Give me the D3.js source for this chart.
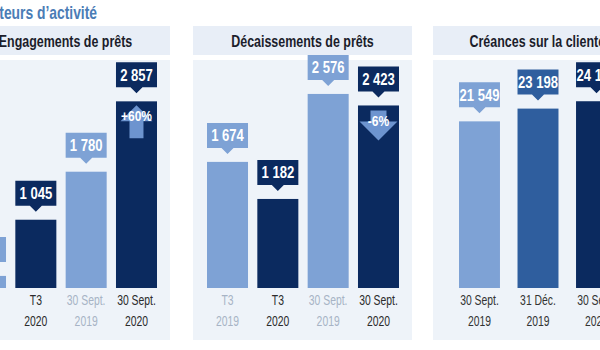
<!DOCTYPE html>
<html>
<head>
<meta charset="utf-8">
<script src="https://cdn.jsdelivr.net/npm/d3@7"></script>
<style>
  body { margin: 0; background: #fff; }
  svg { display: block; font-family: "Liberation Sans", Arial, sans-serif; }
</style>
</head>
<body>
<svg width="600" height="350"></svg>
<script>
// chart data
const title = "Indicateurs d’activité";
const panelTitles = ["Engagements de prêts", "Décaissements de prêts", "Créances sur la clientèle"];

const periodCats = [["T3", "2019"], ["T3", "2020"], ["30 Sept.", "2019"], ["30 Sept.", "2020"]];
const engagementValues = [185, 1045, 1780, 2857];
const engagementLabels = ["185", "1 045", "1 780", "2 857"];
const disbursementValues = [1674, 1182, 2576, 2423];
const disbursementLabels = ["1 674", "1 182", "2 576", "2 423"];

const loanCats = [["30 Sept.", "2019"], ["31 Déc.", "2019"], ["30 Sept.", "2020"]];
const loanValues = [21549, 23198, 24150];
const loanLabels = ["21 549", "23 198", "24 150"];

const changes = [
  { panel: 0, bar: 3, text: "+60%", dir: "up" },
  { panel: 1, bar: 3, text: "-6%", dir: "down" }
];

// colours
const navy = "#0b2a5f", light = "#7ea2d5", mid = "#2f5e9e", arrowBlue = "#6d94cf";
const grey2019 = "#a7b3c5", dark = "#2b2b2b";

const svg = d3.select("svg");

// the slide font is a condensed one, so squeeze the text horizontally
function condensed(parent, x, y, sx) {
  return parent.append("text")
    .attr("transform", `translate(${x},${y}) scale(${sx},1)`);
}

condensed(svg, 97, 19, 0.77)
  .attr("text-anchor", "end")
  .attr("font-size", 18).attr("font-weight", "bold")
  .attr("fill", "#4b7db6")
  .text(title);

const panels = [
  { x0: -49, titleDx: 5, cats: periodCats, values: engagementValues, labels: engagementLabels,
    max: 3000, top: 92, range: [14, 206], pad: 0.185,
    colors: [light, navy, light, navy], catColors: [grey2019, dark, grey2019, dark] },
  { x0: 193, titleDx: 0, cats: periodCats, values: disbursementValues, labels: disbursementLabels,
    max: 3000, top: 62, range: [14, 206], pad: 0.185,
    colors: [light, navy, light, navy], catColors: [grey2019, dark, grey2019, dark] },
  { x0: 433, titleDx: 0, cats: loanCats, values: loanValues, labels: loanLabels,
    max: 30000, top: 56, range: [26, 184], pad: 0.3,
    colors: [light, mid, navy], catColors: ["#333", "#333", "#333"] }
];

const panelW = 219, base = 288;

panels.forEach((p, pi) => {
  const g = svg.append("g").attr("transform", `translate(${p.x0},0)`);

  // header band + body
  g.append("rect").attr("x", 0).attr("y", 26).attr("width", panelW).attr("height", 29).attr("fill", "#e8eef7");
  g.append("rect").attr("x", 0).attr("y", 60).attr("width", panelW).attr("height", 280).attr("fill", "#eef3f9");
  condensed(g, panelW / 2 + p.titleDx, 47, 0.755)
    .attr("text-anchor", "middle")
    .attr("font-size", 16.5).attr("font-weight", "bold")
    .attr("fill", "#1b1d2b")
    .text(panelTitles[pi]);

  const x = d3.scaleBand().domain(d3.range(p.values.length)).range(p.range).paddingInner(p.pad);
  const y = d3.scaleLinear().domain([0, p.max]).range([base, p.top]);
  const bw = x.bandwidth();

  const bars = g.selectAll("g.bar").data(p.values).enter().append("g").attr("class", "bar");

  bars.append("rect")
    .attr("x", (d, i) => x(i)).attr("y", d => y(d))
    .attr("width", bw).attr("height", d => base - y(d))
    .attr("fill", (d, i) => p.colors[i]);

  // value callouts
  bars.append("path")
    .attr("d", (d, i) => {
      const l = x(i), r = l + bw, c = l + bw / 2, b = y(d) - 14, t = b - 25;
      return `M${l},${t}H${r}V${b}H${c + 6}L${c},${b + 6}L${c - 6},${b}H${l}Z`;
    })
    .attr("fill", (d, i) => p.colors[i]);

  bars.each(function (d, i) {
    const bar = d3.select(this);
    const cx = x(i) + bw / 2;
    condensed(bar, cx, y(d) - 20.5, 0.77)
      .attr("text-anchor", "middle")
      .attr("font-size", 17).attr("font-weight", "bold").attr("fill", "#fff")
      .text(p.labels[i]);

    // category labels
    const t = condensed(bar, cx, 0, 0.67)
      .attr("text-anchor", "middle")
      .attr("font-size", 15.5)
      .attr("fill", p.catColors[i]);
    t.append("tspan").attr("x", 0).attr("y", 305).text(p.cats[i][0]);
    t.append("tspan").attr("x", 0).attr("y", 326).text(p.cats[i][1]);
  });

  // change arrows
  changes.filter(c => c.panel === pi).forEach(c => {
    const cx = x(c.bar) + bw / 2, top = y(p.values[c.bar]);
    let d;
    if (c.dir === "up") {
      d = `M${cx},${top + 4}L${cx + 16},${top + 20}H${cx + 7}V${top + 37}H${cx - 7}V${top + 20}H${cx - 16}Z`;
    } else {
      d = `M${cx - 8},${top + 5}H${cx + 8}V${top + 16}H${cx + 19}L${cx},${top + 35}L${cx - 19},${top + 16}H${cx - 8}Z`;
    }
    g.append("path").attr("d", d).attr("fill", arrowBlue);
    condensed(g, cx, top + (c.dir === "up" ? 20 : 21), 0.8)
      .attr("text-anchor", "middle")
      .attr("font-size", 15).attr("font-weight", "bold").attr("fill", "#fff")
      .text(c.text);
  });
});
</script>
</body>
</html>
